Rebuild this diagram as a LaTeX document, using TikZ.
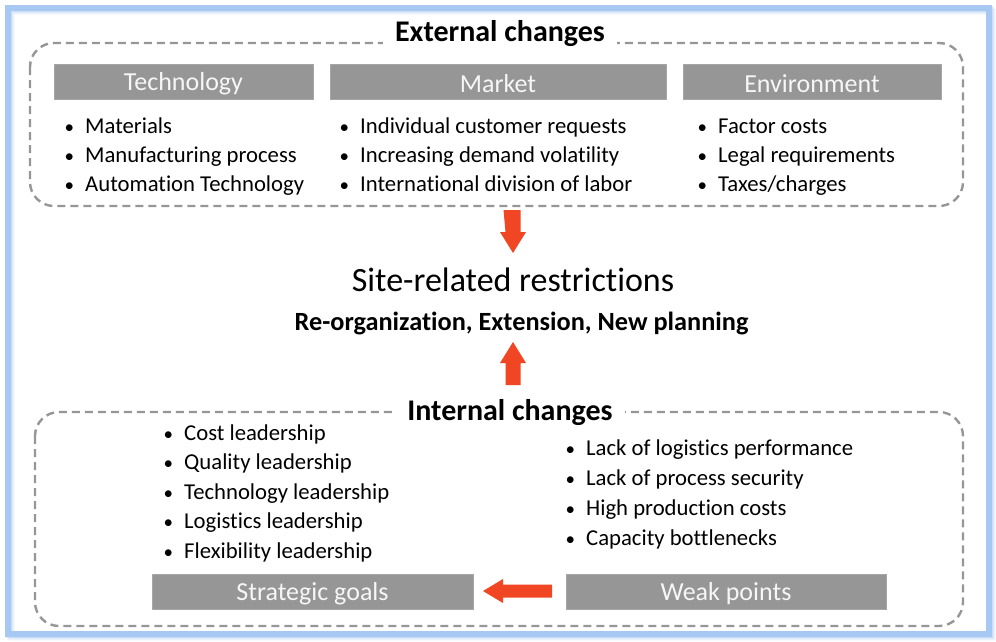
\documentclass[tikz,border=0pt]{standalone}
\usepackage{fontspec}
\setmainfont{Carlito}[Ligatures=NoCommon]
\definecolor{framecol}{RGB}{166,200,242}
\definecolor{dashcol}{RGB}{150,150,150}
\definecolor{barcol}{RGB}{150,150,150}
\definecolor{bartext}{RGB}{246,246,246}
\definecolor{arrowred}{RGB}{240,70,35}
\tikzset{
  dashbox/.style={draw=dashcol, line width=2.4pt, dash pattern=on 8pt off 5pt, rounded corners=24pt},
  bar/.style={fill=barcol, draw=barcol!85!white, line width=0.6pt},
  bartitle/.style={text=bartext, font=\fontsize{26}{30}\selectfont, inner sep=0pt},
  item/.style={anchor=base west, inner sep=0pt, font=\fontsize{22.7}{26}\selectfont},
  title/.style={fill=white, inner xsep=12pt, inner ysep=2pt, font=\fontsize{30}{34}\selectfont\bfseries},
  redarrow/.style={fill=arrowred, draw=none},
}
\newcommand{\bul}{\makebox[22pt][l]{\hspace{1.5pt}{\fontsize{19}{20}\selectfont\textbullet}}}
\begin{document}
\begin{tikzpicture}[x=1pt,y=-1pt]
\useasboundingbox (0,0) rectangle (996,641);
% frame with soft shadow
\foreach \o/\op in {4/0.10,3/0.15,2/0.22,1/0.3}
  \draw[framecol, line width=6pt, opacity=\op] (8+\o,8+\o) rectangle (988.5+\o,633.5+\o);
\draw[framecol, line width=6pt] (8,8) rectangle (988.5,633.5);

% top dashed box
\draw[dashbox] (30,43) rectangle (963,206);
\node[title] (ext) at (500,34) {External changes};

% header bars
\node[bar, minimum width=259pt, minimum height=35pt, inner sep=0pt] (techbar) at (183.5,81.5) {};
\node[bartitle] (tech) at ([yshift=-2pt]techbar.center) {Technology};
\node[bar, minimum width=336pt, minimum height=35pt, inner sep=0pt] (marketbar) at (498,81.5) {};
\node[bartitle] (market) at ([yshift=-2pt]marketbar.center) {Market};
\node[bar, minimum width=258pt, minimum height=35pt, inner sep=0pt] (envbar) at (812,81.5) {};
\node[bartitle] (env) at ([yshift=-2pt]envbar.center) {Environment};

% top lists
\foreach \t [count=\i from 0] in {Materials, Manufacturing process, Automation Technology}
  \node[item] (techitem\i) at (63,133+29*\i) {\bul\t};
\foreach \t [count=\i from 0] in {Individual customer requests, Increasing demand volatility, International division of labor}
  \node[item] (marketitem\i) at (338,133+29*\i) {\bul\t};
\foreach \t [count=\i from 0] in {Factor costs, Legal requirements, Taxes/charges}
  \node[item] (envitem\i) at (696,133+29*\i) {\bul\t};

% down arrow
\fill[redarrow] (503.5,210) -- (520.5,210) -- (520.5,232) -- (526,232) -- (513,253) -- (500,232) -- (505.5,232) -- cycle;

% centre texts
\node[inner sep=0pt, font=\fontsize{34}{38}\selectfont] (site) at (513,280) {Site-related restrictions};
\node[inner sep=0pt, font=\fontsize{26.3}{30}\selectfont\bfseries] (reorg) at (521.5,323) {Re-organization, Extension, New planning};

% up arrow
\fill[redarrow] (505.5,385) -- (520.5,385) -- (520.5,363) -- (526,363) -- (513,342) -- (500,363) -- (505.5,363) -- cycle;

% bottom dashed box
\draw[dashbox] (35,412) rectangle (963,626);
\node[title] (int) at (510,413) {Internal changes};

% bottom lists
\foreach \t [count=\i from 0] in {Cost leadership, Quality leadership, Technology leadership, Logistics leadership, Flexibility leadership}
  \node[item] (goal\i) at (162,440+29.5*\i) {\bul\t};
\foreach \t [count=\i from 0] in {Lack of logistics performance, Lack of process security, High production costs, Capacity bottlenecks}
  \node[item] (weak\i) at (564,455+30*\i) {\bul\t};

% bottom bars
\node[bar, minimum width=321pt, minimum height=35pt, inner sep=0pt] (goalbar) at (312.5,591.5) {};
\node[bartitle] (goals) at ([yshift=-2pt]goalbar.center) {Strategic goals};
\node[bar, minimum width=320pt, minimum height=35pt, inner sep=0pt] (weakbar) at (726,591.5) {};
\node[bartitle] (weakt) at ([yshift=-2pt]weakbar.center) {Weak points};

% left arrow
\fill[redarrow] (552,584.5) -- (552,597.5) -- (503,597.5) -- (503,603) -- (483,591) -- (503,579) -- (503,584.5) -- cycle;
\end{tikzpicture}
\end{document}
